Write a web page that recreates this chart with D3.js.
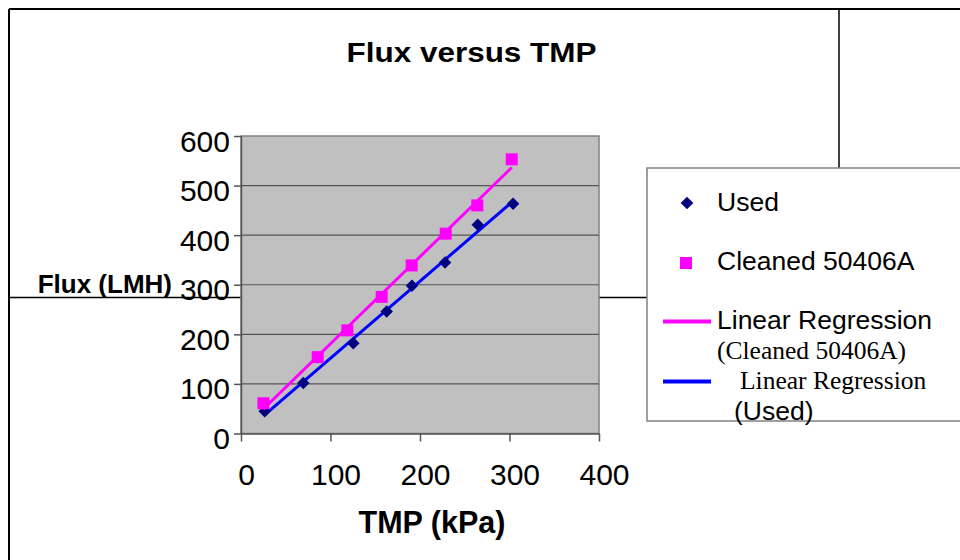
<!DOCTYPE html>
<html>
<head>
<meta charset="utf-8">
<script src="https://cdn.jsdelivr.net/npm/d3@7"></script>
<style>
  body { margin: 0; background: #fff; }
  svg { display: block; font-family: "Liberation Sans", Arial, sans-serif; }
</style>
</head>
<body>
<svg id="drawing_region"></svg>
<script>
// values
const used_tmp = [26.5, 69.6, 125.5, 162.8, 191, 228, 264.5, 304];
const used_flux = [45, 102, 182, 246, 298, 345, 421, 463.5];
const cleaned_tmp = [25, 85.7, 118.8, 157.2, 190.7, 228.7, 264, 302.5];
const cleaned_flux = [61, 154, 208, 275.5, 339, 403, 460, 553];
const x_ticks = [0, 100, 200, 300, 400];
const y_ticks = [0, 100, 200, 300, 400, 500, 600];

const config = {
    width: 960,
    height: 560,
    plot: {left: 241, top: 136, right: 599, bottom: 433.5}
};

// least squares fit through the points of one series
function fit(xs, ys) {
    const mx = d3.mean(xs), my = d3.mean(ys);
    const sxy = d3.sum(xs, (x, i) => (x - mx) * (ys[i] - my));
    const sxx = d3.sum(xs, x => (x - mx) * (x - mx));
    const slope = sxy / sxx;
    const icpt = my - slope * mx;
    return d3.extent(xs).map(x => ({x: x, y: icpt + slope * x}));
}

const used = used_tmp.map((x, i) => ({x: x, y: used_flux[i]}));
const cleaned = cleaned_tmp.map((x, i) => ({x: x, y: cleaned_flux[i]}));

const svg = d3.select('#drawing_region')
    .attr('width', config.width)
    .attr('height', config.height);

// page frame lines (behind everything)
const frame = svg.append('g').attr('stroke', '#000');
frame.append('line').attr('x1', 9).attr('x2', 960).attr('y1', 9).attr('y2', 9).attr('stroke-width', 2);
frame.append('line').attr('x1', 9).attr('x2', 9).attr('y1', 9).attr('y2', 560).attr('stroke-width', 2);
frame.append('line').attr('x1', 839).attr('x2', 839).attr('y1', 9).attr('y2', 168).attr('stroke-width', 1.5);
frame.append('line').attr('x1', 9).attr('x2', 647).attr('y1', 297.5).attr('y2', 297.5).attr('stroke-width', 1.5);

const p = config.plot;
const xscale = d3.scaleLinear().domain([0, 400]).range([p.left, p.right]);
const yscale = d3.scaleLinear().domain([0, 600]).range([p.bottom, p.top]);

// plot area
svg.append('rect')
    .attr('x', p.left).attr('y', p.top)
    .attr('width', p.right - p.left).attr('height', p.bottom - p.top)
    .attr('fill', '#c0c0c0').attr('stroke', '#808080').attr('stroke-width', 1.5);

// gridlines
svg.append('g')
    .selectAll('line').data(y_ticks.filter(d => d > 0 && d < 600)).enter()
    .append('line')
    .attr('x1', p.left).attr('x2', p.right)
    .attr('y1', d => yscale(d)).attr('y2', d => yscale(d))
    .attr('stroke', '#555').attr('stroke-width', 1.2);

// axes
const xaxis = d3.axisBottom(xscale).tickValues(x_ticks).tickSize(8).tickPadding(22).tickSizeOuter(0);
const yaxis = d3.axisLeft(yscale).tickValues(y_ticks).tickSize(7).tickPadding(4).tickSizeOuter(0);

const xaxis_group = svg.append('g')
    .attr('transform', `translate(0, ${p.bottom})`)
    .call(xaxis);
xaxis_group.selectAll('text').attr('dx', 5);

const yaxis_group = svg.append('g')
    .attr('transform', `translate(${p.left}, 0)`)
    .call(yaxis);
yaxis_group.selectAll('text').attr('dy', '0.5em');

svg.selectAll('.domain, .tick line').attr('stroke', '#555').attr('stroke-width', 1.5);
svg.selectAll('.tick text')
    .attr('font-family', '"Liberation Sans", Arial, sans-serif')
    .attr('font-size', 30).attr('fill', '#000');

// regression lines, then markers on top
const line = d3.line().x(d => xscale(d.x)).y(d => yscale(d.y));
const diamond = d3.symbol(d3.symbolSquare, 78);
const square = d3.symbol(d3.symbolSquare, 144);

svg.append('path').datum(fit(used_tmp, used_flux))
    .attr('d', line).attr('fill', 'none')
    .attr('stroke', '#0000ff').attr('stroke-width', 3);

svg.append('g').selectAll('path').data(used).enter()
    .append('path')
    .attr('d', diamond)
    .attr('transform', d => `translate(${xscale(d.x)}, ${yscale(d.y)}) rotate(45)`)
    .attr('fill', '#000080');

svg.append('path').datum(fit(cleaned_tmp, cleaned_flux))
    .attr('d', line).attr('fill', 'none')
    .attr('stroke', '#ff00ff').attr('stroke-width', 3);

svg.append('g').selectAll('path').data(cleaned).enter()
    .append('path')
    .attr('d', square)
    .attr('transform', d => `translate(${xscale(d.x)}, ${yscale(d.y)})`)
    .attr('fill', '#ff00ff');

// titles
svg.append('text')
    .attr('x', 471.5).attr('y', 62)
    .attr('text-anchor', 'middle')
    .attr('font-size', 27).attr('font-weight', 'bold')
    .attr('textLength', 250).attr('lengthAdjust', 'spacingAndGlyphs')
    .text('Flux versus TMP');

svg.append('text')
    .attr('x', 432).attr('y', 533)
    .attr('text-anchor', 'middle')
    .attr('font-size', 30.5).attr('font-weight', 'bold')
    .text('TMP (kPa)');

svg.append('text')
    .attr('x', 172).attr('y', 293)
    .attr('text-anchor', 'end')
    .attr('font-size', 26).attr('font-weight', 'bold')
    .text('Flux (LMH)');

// legend
const legend = svg.append('g');
legend.append('rect')
    .attr('x', 647).attr('y', 168).attr('width', 330).attr('height', 253)
    .attr('fill', '#fff').attr('stroke', '#808080').attr('stroke-width', 1.5);

legend.append('path')
    .attr('d', d3.symbol(d3.symbolSquare, 81)())
    .attr('transform', 'translate(687, 203) rotate(45)')
    .attr('fill', '#000080');
legend.append('path')
    .attr('d', d3.symbol(d3.symbolSquare, 144)())
    .attr('transform', 'translate(686, 263)')
    .attr('fill', '#ff00ff');
legend.append('line')
    .attr('x1', 663).attr('x2', 711).attr('y1', 321.5).attr('y2', 321.5)
    .attr('stroke', '#ff00ff').attr('stroke-width', 4);
legend.append('line')
    .attr('x1', 663).attr('x2', 711).attr('y1', 381.5).attr('y2', 381.5)
    .attr('stroke', '#0000ff').attr('stroke-width', 4);

const sans = '"Liberation Sans", Arial, sans-serif';
const serif = '"Liberation Serif", "Times New Roman", serif';
const legend_texts = [
    {t: 'Used', x: 717, y: 211, f: sans, s: 26.5},
    {t: 'Cleaned 50406A', x: 717, y: 270, f: sans, s: 26.5},
    {t: 'Linear Regression', x: 717, y: 329, f: sans, s: 26.5},
    {t: '(Cleaned 50406A)', x: 717, y: 359, f: serif, s: 25.5},
    {t: 'Linear Regression', x: 740, y: 389, f: serif, s: 25.5},
    {t: '(Used)', x: 734, y: 420, f: sans, s: 26.5}
];
legend.selectAll('text.item').data(legend_texts).enter()
    .append('text')
    .attr('class', 'item')
    .attr('x', d => d.x).attr('y', d => d.y)
    .attr('font-family', d => d.f)
    .attr('font-size', d => d.s)
    .text(d => d.t);
</script>
</body>
</html>
